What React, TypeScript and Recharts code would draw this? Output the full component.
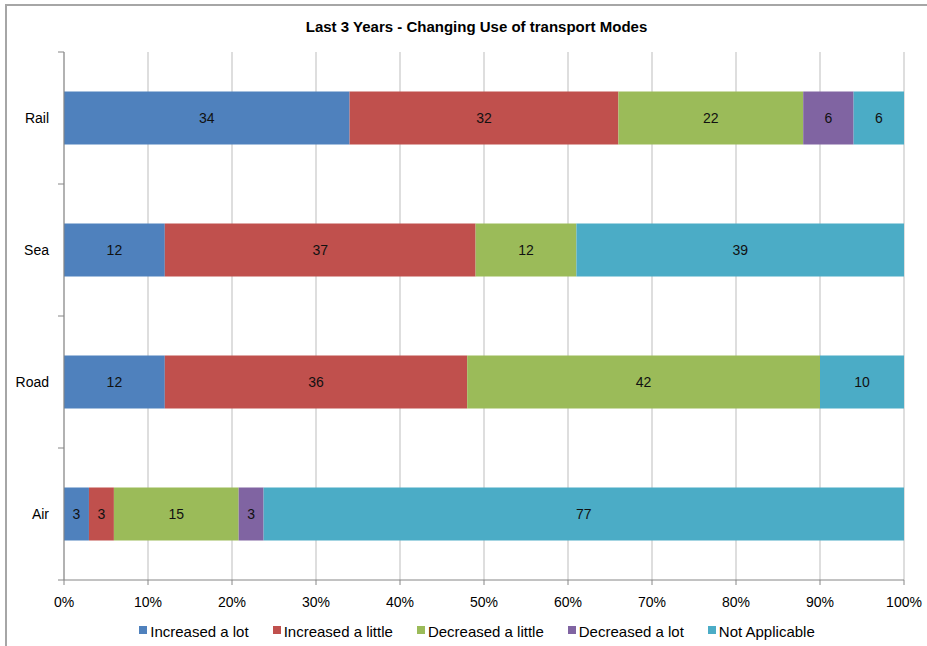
import React from 'react';
import { BarChart, Bar, XAxis, YAxis, CartesianGrid, LabelList, Legend } from 'recharts';

// Transport modes, listed top to bottom
const modes = ['Rail', 'Sea', 'Road', 'Air'];

// Responses per mode (share of respondents)
const increasedALot = [34, 12, 12, 3];
const increasedALittle = [32, 37, 36, 3];
const decreasedALittle = [22, 12, 42, 15];
const decreasedALot = [6, 0, 0, 3];
const notApplicable = [6, 39, 10, 77];

const seriesKeys = ['incLot', 'incLittle', 'decLittle', 'decLot', 'na'];
const seriesNames = ['Increased a lot', 'Increased a little', 'Decreased a little', 'Decreased a lot', 'Not Applicable'];
const seriesColors = ['#4F81BD', '#C0504D', '#9BBB59', '#8064A2', '#4BACC6'];
const seriesValues = [increasedALot, increasedALittle, decreasedALittle, decreasedALot, notApplicable];

// Percentage axis ticks (fractions of the full bar)
const percentTicks = [0, 0.1, 0.2, 0.3, 0.4, 0.5, 0.6, 0.7, 0.8, 0.9, 1];

const data = modes.map((mode, i) => {
  const row: Record<string, string | number> = { mode };
  seriesKeys.forEach((k, s) => {
    row[k] = seriesValues[s][i];
  });
  return row;
});

const FONT = '"Liberation Sans", Arial, sans-serif';
const AXIS_COLOR = '#868686';
const GRID_COLOR = '#bdbdbd';
const CATEGORY_LABEL_GAP = 15;
const BOUNDARY_TICK = 6;

// Category label plus tick marks on the band edges (Excel-style "between" ticks)
const CategoryTick = (props: any) => {
  const { x, y, payload } = props;
  const half = payload && typeof payload.offset === 'number' ? payload.offset : 0;
  const axisX = x + CATEGORY_LABEL_GAP;
  return (
    <g>
      <text x={x} y={y} dy="0.355em" textAnchor="end" fill="#000" fontSize={14} fontFamily={FONT}>
        {payload.value}
      </text>
      {half > 0 && (
        <line x1={axisX - BOUNDARY_TICK} x2={axisX} y1={y + half} y2={y + half} stroke={AXIS_COLOR} />
      )}
      {half > 0 && payload.index === 0 && (
        <line x1={axisX - BOUNDARY_TICK} x2={axisX} y1={y - half} y2={y - half} stroke={AXIS_COLOR} />
      )}
    </g>
  );
};

const LegendContent = () => (
  <div
    style={{
      display: 'flex',
      justifyContent: 'center',
      alignItems: 'center',
      gap: 24,
      height: 20,
      lineHeight: '20px',
      paddingLeft: 27,
      fontFamily: FONT,
      fontSize: 15,
      color: '#000',
    }}
  >
    {seriesNames.map((name, i) => (
      <div key={name} style={{ display: 'flex', alignItems: 'center' }}>
        <span style={{ display: 'inline-block', width: 8, height: 8, background: seriesColors[i], marginRight: 3, marginTop: -4 }} />
        <span>{name}</span>
      </div>
    ))}
  </div>
);

export default function App() {
  return (
    <div style={{ position: 'absolute', left: 0, top: 0, width: 927, height: 646, background: '#fff', fontFamily: FONT }}>
      <div
        style={{
          position: 'absolute',
          left: 5,
          top: 4,
          right: 0,
          bottom: 0,
          borderTop: '2px solid #a6a6a6',
          borderLeft: '2px solid #a6a6a6',
        }}
      />
      <div
        style={{
          position: 'absolute',
          left: 0,
          top: 17,
          width: 927,
          paddingLeft: 26,
          boxSizing: 'border-box',
          textAlign: 'center',
          fontSize: 15,
          fontWeight: 'bold',
          lineHeight: '20px',
          color: '#000',
        }}
      >
        Last 3 Years - Changing Use of transport Modes
      </div>
      <BarChart
        width={927}
        height={646}
        data={data}
        layout="vertical"
        stackOffset="expand"
        barCategoryGap="30%"
        margin={{ top: 52, right: 23, bottom: 4, left: 0 }}
        style={{ position: 'absolute', left: 0, top: 0 }}
      >
        <CartesianGrid vertical horizontal={false} stroke={GRID_COLOR} />
        <XAxis
          type="number"
          domain={[0, 1]}
          ticks={percentTicks}
          interval={0}
          tickFormatter={(v: number) => `${Math.round(v * 100)}%`}
          tickSize={5}
          tickMargin={12}
          height={42}
          stroke={AXIS_COLOR}
          tick={{ fill: '#000', fontSize: 14, fontFamily: FONT }}
        />
        <YAxis
          type="category"
          dataKey="mode"
          width={64}
          interval={0}
          tickLine={false}
          tickSize={0}
          tickMargin={CATEGORY_LABEL_GAP}
          stroke={AXIS_COLOR}
          tick={<CategoryTick />}
        />
        <Legend verticalAlign="bottom" content={LegendContent} wrapperStyle={{ left: 0, width: 927 }} />
        {seriesKeys.map((key, s) => (
          <Bar key={key} dataKey={key} name={seriesNames[s]} stackId="modes" fill={seriesColors[s]} isAnimationActive={false}>
            <LabelList
              dataKey={key}
              position="center"
              fill="#111"
              fontSize={14}
              fontFamily={FONT}
              formatter={(v: number) => (v ? v : '')}
            />
          </Bar>
        ))}
      </BarChart>
    </div>
  );
}
